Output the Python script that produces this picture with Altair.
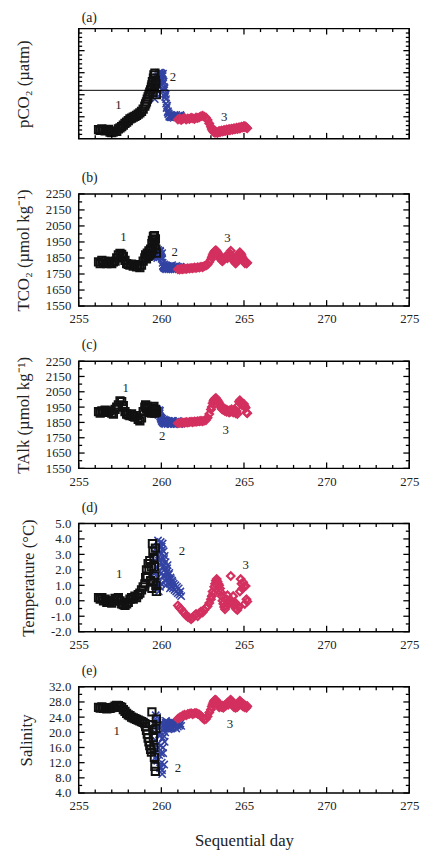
import altair as alt
import pandas as pd

FONT = "Liberation Serif"
BLACK = "#111111"
BLUE = "#3343a3"
RED = "#d3305f"

# ---------------- data ----------------
DAY1 = [256.2, 256.3, 256.4, 256.5, 256.6, 256.7, 256.8, 256.9, 257.0, 257.1,
        257.2, 257.3, 257.4, 257.5, 257.6, 257.7, 257.8, 257.9, 258.0, 258.1,
        258.2, 258.3, 258.4, 258.5, 258.6, 258.7, 258.8, 258.9,
        259.0, 259.05, 259.1, 259.15, 259.2, 259.25, 259.3, 259.35, 259.4,
        259.43, 259.46, 259.49, 259.52, 259.55, 259.58, 259.61, 259.64, 259.67, 259.7]
PCO2_1 = [192, 188, 195, 190, 186, 190, 193, 180, 178, 182, 185, 184, 195, 200, 205, 212, 220, 226, 232, 240,
          244, 248, 252, 256, 262, 268, 275, 285, 298, 308, 318, 330, 340, 352, 362, 372, 385,
          395, 410, 360, 425, 440, 380, 448, 415, 400, 350]
TCO2_1 = [1825, 1815, 1835, 1820, 1830, 1815, 1825, 1820, 1815, 1825, 1830, 1850, 1870, 1878, 1872, 1860, 1835, 1815, 1810, 1805,
          1812, 1800, 1808, 1795, 1800, 1790, 1805, 1830, 1850, 1870, 1845, 1880, 1860, 1895, 1870, 1905, 1880,
          1940, 1960, 1900, 1985, 1950, 1990, 1930, 1970, 1905, 1880]
TALK_1 = [1920, 1910, 1925, 1915, 1930, 1915, 1920, 1925, 1910, 1905, 1935, 1950, 1965, 1990, 1985, 1960, 1920, 1905, 1900, 1895,
          1905, 1890, 1885, 1895, 1870, 1860, 1880, 1920, 1950, 1965, 1940, 1955, 1925, 1935, 1915, 1920, 1910,
          1920, 1945, 1915, 1925, 1955, 1910, 1920, 1935, 1915, 1920]
TEMP_1 = [0.2, 0.1, 0.2, 0.0, 0.1, -0.1, 0.0, -0.1, -0.15, 0.0, 0.15, 0.1, 0.2, 0.0, -0.2, -0.25, -0.3, -0.2, -0.1, 0.1,
          0.2, 0.1, 0.3, 0.2, 0.4, 0.5, 0.7, 0.9, 1.1, 1.5, 2.0, 1.6, 2.4, 2.0, 2.6, 1.3, 2.2,
          0.8, 3.7, 3.2, 1.2, 2.8, 2.2, 1.6, 3.4, 1.0, 0.6]
SAL_1 = [26.6, 26.4, 26.7, 26.3, 26.5, 26.2, 26.4, 26.3, 26.5, 26.6, 26.9, 27.1, 27.0, 26.8, 26.6, 26.0, 25.5, 25.0, 24.6, 24.4,
         24.0, 23.8, 23.6, 23.4, 23.2, 23.0, 22.8, 22.6, 22.3, 21.5, 20.5, 19.5, 18.5, 17.5, 16.5, 15.5, 14.8,
         25.4, 22.0, 20.7, 18.6, 16.0, 13.4, 11.0, 9.7, 21.0, 23.5]

DAY2 = [259.60, 259.63, 259.66, 259.69, 259.72, 259.75, 259.78, 259.81, 259.84, 259.87,
        259.90, 259.93, 259.96, 259.99, 260.02, 260.05, 260.08, 260.11, 260.14, 260.17,
        260.20, 260.23, 260.26, 260.29, 260.35, 260.40, 260.45, 260.50, 260.55, 260.60,
        260.65, 260.70, 260.75, 260.80, 260.85, 260.90, 260.95, 261.00, 261.05, 261.10, 261.15, 261.20,
        259.62, 259.68, 259.74, 259.80, 259.86, 259.92, 259.98, 260.04, 260.10, 260.16, 260.22, 260.28,
        260.32, 260.38, 260.42, 260.48, 260.52, 260.58, 260.62, 260.68]
PCO2_2 = [330, 380, 350, 410, 370, 420, 395, 435, 410, 445, 420, 440, 450, 430, 445, 415, 435, 400, 410, 370,
          380, 340, 350, 310, 300, 275, 265, 255, 250, 258, 248, 252, 245, 255, 250, 258, 248, 253, 255, 250, 258, 252,
          360, 400, 430, 390, 450, 425, 440, 420, 445, 385, 355, 330,
          290, 270, 262, 250, 255, 248, 253, 250]
TCO2_2 = [1880, 1860, 1895, 1870, 1885, 1850, 1875, 1900, 1865, 1880, 1855, 1890, 1870, 1860, 1845, 1880, 1820, 1800, 1790, 1810,
          1785, 1795, 1800, 1780, 1790, 1800, 1785, 1795, 1780, 1790, 1805, 1785, 1795, 1780, 1790, 1800, 1785, 1795, 1790, 1785, 1795, 1790,
          1865, 1890, 1860, 1885, 1870, 1895, 1875, 1850, 1800, 1795, 1790, 1785,
          1800, 1790, 1780, 1795, 1785, 1800, 1790, 1780]
TALK_2 = [1915, 1930, 1905, 1920, 1935, 1910, 1925, 1900, 1915, 1930, 1910, 1890, 1880, 1870, 1860, 1875, 1850, 1865, 1845, 1860,
          1855, 1840, 1865, 1850, 1855, 1845, 1860, 1850, 1840, 1855, 1845, 1860, 1850, 1840, 1855, 1845, 1850, 1860, 1845, 1840, 1850, 1845,
          1925, 1910, 1935, 1915, 1900, 1925, 1880, 1860, 1855, 1870, 1845, 1860,
          1850, 1840, 1860, 1845, 1855, 1840, 1850, 1860]
TEMP_2 = [2.6, 1.2, 3.0, 0.8, 2.2, 3.3, 1.5, 2.8, 0.6, 3.6, 1.9, 3.1, 3.8, 1.1, 3.5, 2.4, 3.7, 1.6, 3.2, 2.0,
          2.9, 1.3, 2.5, 1.8, 2.1, 1.4, 1.7, 1.1, 1.5, 0.9, 1.3, 0.8, 1.1, 0.7, 1.0, 0.6, 0.9, 0.5, 0.8, 0.4, 0.6, 0.3,
          1.8, 3.4, 1.0, 3.9, 2.6, 0.9, 2.7, 3.3, 2.2, 2.7, 1.6, 1.0,
          1.9, 2.3, 1.2, 1.8, 0.8, 1.4, 1.0, 1.2]
SAL_2 = [22.0, 18.0, 24.5, 15.5, 20.5, 12.5, 23.0, 17.0, 21.5, 14.0, 19.0, 10.5, 16.5, 22.5, 12.0, 9.0, 18.5, 14.5, 21.0, 11.5,
         17.5, 20.0, 22.5, 21.0, 22.0, 21.3, 22.5, 21.0, 22.2, 21.5, 22.8, 21.2, 22.0, 21.6, 22.4, 21.0, 22.2, 21.5, 22.6, 21.8, 22.3, 21.7,
         20.0, 13.5, 24.0, 16.0, 19.5, 11.0, 14.5, 10.0, 16.0, 19.0, 22.0, 23.0,
         21.5, 22.5, 20.8, 22.0, 21.4, 22.6, 21.0, 22.2]

DAY3 = [261.0, 261.1, 261.2, 261.3, 261.4, 261.5, 261.6, 261.7, 261.8, 261.9,
        262.0, 262.1, 262.2, 262.3, 262.4, 262.5, 262.6, 262.7, 262.8, 262.9,
        263.0, 263.05, 263.1, 263.15, 263.2, 263.25, 263.3, 263.35, 263.4, 263.45,
        263.5, 263.55, 263.6, 263.65, 263.7, 263.75, 263.8, 263.85, 263.9, 263.95,
        264.0, 264.05, 264.1, 264.15, 264.2, 264.25, 264.3, 264.35, 264.4, 264.45,
        264.5, 264.55, 264.6, 264.65, 264.7, 264.75, 264.8, 264.85, 264.9, 264.95,
        265.0, 265.05, 265.1, 265.15, 265.2]
PCO2_3 = [238, 242, 236, 240, 244, 238, 242, 240, 245, 243, 240, 246, 244, 248, 252, 255, 250, 246, 235, 220,
          205, 195, 188, 182, 180, 178, 183, 180, 176, 182, 185, 180, 184, 188, 183, 186, 190, 185, 188, 192,
          187, 190, 194, 189, 192, 196, 191, 195, 198, 193, 196, 200, 195, 198, 202, 197, 200, 205, 201, 204,
          208, 203, 206, 200, 198]
TCO2_3 = [1780, 1778, 1782, 1780, 1784, 1782, 1786, 1784, 1788, 1786, 1790, 1788, 1792, 1790, 1795, 1793, 1800, 1803, 1810, 1825,
          1840, 1855, 1868, 1880, 1888, 1895, 1898, 1892, 1885, 1875, 1862, 1850, 1842, 1835, 1830, 1838, 1845, 1852, 1860, 1855,
          1848, 1862, 1870, 1880, 1895, 1865, 1850, 1840, 1830, 1822, 1815, 1828, 1842, 1858, 1872, 1885, 1878, 1868, 1855, 1840,
          1828, 1818, 1825, 1815, 1820]
TALK_3 = [1845, 1848, 1846, 1850, 1848, 1852, 1850, 1853, 1855, 1852, 1856, 1855, 1858, 1857, 1860, 1858, 1862, 1865, 1880, 1905,
          1935, 1950, 1975, 1990, 2000, 2005, 2010, 2000, 1995, 1985, 1975, 1965, 1950, 1940, 1935, 1945, 1930, 1925, 1935, 1920,
          1930, 1925, 1915, 1930, 1920, 1935, 1925, 1915, 1930, 1920, 1910, 1925, 1905, 1960, 1985, 1995, 1980, 1965, 1975, 1960,
          1970, 1955, 1945, 1915, 1910]
TEMP_3 = [-0.3, -0.45, -0.55, -0.7, -0.8, -0.95, -1.05, -1.1, -1.2, -1.1, -0.95, -0.85, -1.0, -0.8, -0.7, -0.75, -0.6, -0.45, -0.35, -0.15,
          0.1, 0.3, 0.6, 0.45, 0.9, 1.1, 1.3, 1.4, 1.25, 1.1, 1.0, 0.8, 0.55, 0.3, 0.0, -0.2, -0.4, -0.55, -0.3, 0.1,
          0.35, -0.1, -0.2, -0.05, 1.6, 0.0, -0.15, 0.3, -0.3, -0.1, -0.5, -0.25, -0.6, -0.35, -0.4, 0.6, 1.4, 1.1, 0.8, 1.2,
          0.9, -0.2, 0.95, 0.1, -0.05]
SAL_3 = [23.6, 23.9, 24.1, 24.4, 24.6, 24.5, 24.8, 24.9, 25.0, 24.8, 25.0, 25.1, 24.9, 24.7, 24.3, 23.8, 23.4, 23.5, 24.2, 25.2,
         26.0, 26.8, 27.4, 27.9, 28.3, 28.6, 28.5, 28.2, 27.5, 27.0, 26.6, 26.8, 27.1, 26.7, 27.0, 26.5, 26.8, 27.2, 27.0, 27.4,
         27.8, 27.3, 28.0, 28.4, 28.6, 28.2, 27.6, 27.0, 26.6, 26.9, 26.5, 27.0, 26.7, 27.4, 27.8, 28.3, 28.0, 27.2, 27.6, 26.8,
         27.3, 26.6, 27.0, 26.5, 26.9]

ATM_PCO2 = [370]
SERIES_LABELS = ["1", "2", "3"]
LAB_A = ([257.4, 260.7, 263.8], [302, 431, 248])
LAB_B = ([257.7, 260.8, 264.0], [1983, 1887, 1976])
LAB_C = ([257.85, 260.05, 263.9], [2077, 1762, 1800])
LAB_D = ([257.45, 261.25, 265.1], [1.7, 3.2, 2.3])
LAB_E = ([257.3, 261.0, 264.15], [20.2, 10.5, 22.3])

X_DOMAIN = [255, 275]
X_LABELS = [255, 260, 265, 270, 275]
X_MAJ = [255, 260, 265, 270, 275]
X_MIN = [256, 257, 258, 259, 261, 262, 263, 264, 266, 267, 268, 269, 271, 272, 273, 274]

A_MAJ = [250, 350, 450, 550]
A_MIN = [170, 190, 210, 230, 270, 290, 310, 330, 370, 390, 410, 430, 470, 490, 510, 530, 570, 590, 610, 630]
BC_MAJ = [1550, 1650, 1750, 1850, 1950, 2050, 2150, 2250]
BC_MIN = [1600, 1700, 1800, 1900, 2000, 2100, 2200]
D_MAJ = [-2, -1, 0, 1, 2, 3, 4, 5]
D_MIN = [-1.5, -0.5, 0.5, 1.5, 2.5, 3.5, 4.5]
E_MAJ = [4, 8, 12, 16, 20, 24, 28, 32]
E_MIN = [6, 10, 14, 18, 22, 26, 30]

for a, b in [(DAY1, PCO2_1), (DAY1, TCO2_1), (DAY1, TALK_1), (DAY1, TEMP_1), (DAY1, SAL_1),
             (DAY2, PCO2_2), (DAY2, TCO2_2), (DAY2, TALK_2), (DAY2, TEMP_2), (DAY2, SAL_2),
             (DAY3, PCO2_3), (DAY3, TCO2_3), (DAY3, TALK_3), (DAY3, TEMP_3), (DAY3, SAL_3)]:
    assert len(a) == len(b), (len(a), len(b))

W = 336
X_PATH = "M-1,-1L1,1M-1,1L1,-1"


def panel(letter, ytitle, ydom, v1, v2, v3, ymaj, ymin, labpos, H,
          show_xlabels=True, xtitle=None, show_ylabels=True, ylabel_expr=None, yfmt=None, hline=None):
    xs = alt.Scale(domain=X_DOMAIN, nice=False, zero=False)
    ys = alt.Scale(domain=ydom, nice=False, zero=False)

    xaxis = alt.Axis(values=X_LABELS, labels=show_xlabels, ticks=False, domain=False, grid=False,
                     labelPadding=7, labelFlush=False, title=xtitle, titlePadding=20)
    yaxis_kw = dict(values=ymaj, labels=show_ylabels, ticks=False, domain=False, grid=False,
                    labelPadding=8, title=ytitle, titlePadding=13)
    if ylabel_expr:
        yaxis_kw["labelExpr"] = ylabel_expr
    if yfmt:
        yaxis_kw["format"] = yfmt
    if not show_ylabels:
        yaxis_kw["titlePadding"] = 47
    yaxis = alt.Axis(**yaxis_kw)

    def X(field):
        return alt.X(field, scale=xs, axis=xaxis, title=xtitle)

    def Y(field):
        return alt.Y(field, scale=ys, axis=yaxis, title=ytitle)

    def pts(days, vals):
        return alt.Chart(pd.DataFrame({"day": days, "v": vals}))

    enc = dict(x=X("day:Q"), y=Y("v:Q"))

    s2 = pts(DAY2, v2).mark_point(shape=X_PATH, filled=False, size=55, color=BLUE,
                                  strokeWidth=1.6, opacity=1).encode(**enc)
    s3 = pts(DAY3, v3).mark_point(shape="diamond", filled=False, size=58, color=RED,
                                  strokeWidth=2.2, opacity=1).encode(**enc)
    s1 = pts(DAY1, v1).mark_point(shape="square", filled=False, size=55, color=BLACK,
                                  strokeWidth=2.0, opacity=1).encode(**enc)

    labs = alt.Chart(pd.DataFrame({"day": labpos[0], "v": labpos[1], "t": SERIES_LABELS})).mark_text(
        font=FONT, fontSize=13, color="#222222").encode(text="t:N", **enc)

    layers = [s2, s3, s1, labs]

    if hline is not None:
        layers.append(alt.Chart(pd.DataFrame({"v": hline})).mark_rule(color="black", strokeWidth=1).encode(
            y=Y("v:Q"), x=alt.value(0), x2=alt.value(W)))

    def tick_chart(vals):
        return alt.Chart(pd.DataFrame({"t": vals}))

    for vals, L in ((X_MAJ, 6), (X_MIN, 3.5)):
        layers.append(tick_chart(vals).mark_rule(color="black", strokeWidth=1.3).encode(
            x=X("t:Q"), y=alt.value(H), y2=alt.value(H - L)))
        layers.append(tick_chart(vals).mark_rule(color="black", strokeWidth=1.3).encode(
            x=X("t:Q"), y=alt.value(0), y2=alt.value(L)))
    for vals, L in ((ymaj, 6), (ymin, 3.5)):
        layers.append(tick_chart(vals).mark_rule(color="black", strokeWidth=1.3).encode(
            y=Y("t:Q"), x=alt.value(0), x2=alt.value(L)))
        layers.append(tick_chart(vals).mark_rule(color="black", strokeWidth=1.3).encode(
            y=Y("t:Q"), x=alt.value(W), x2=alt.value(W - L)))

    return alt.layer(*layers).properties(
        width=W, height=H,
        title=alt.TitleParams(letter, anchor="start", frame="group", font=FONT, fontSize=14,
                              fontWeight="normal", color="#222222", offset=3, dx=3),
    )


MINUS_FIX = "replace(format(datum.value, '.1f'), '\u2212', '-')"

pa = panel("(a)", "pCO\u2082 (\u00b5atm)", [150, 650], PCO2_1, PCO2_2, PCO2_3, A_MAJ, A_MIN, LAB_A, 112,
           show_xlabels=False, show_ylabels=False, hline=ATM_PCO2)
pb = panel("(b)", "TCO\u2082 (\u00b5mol kg\u207b\u00b9)", [1550, 2250], TCO2_1, TCO2_2, TCO2_3, BC_MAJ, BC_MIN, LAB_B, 114,
           yfmt="d")
pc = panel("(c)", "TAlk (\u00b5mol kg\u207b\u00b9)", [1550, 2250], TALK_1, TALK_2, TALK_3, BC_MAJ, BC_MIN, LAB_C, 109,
           yfmt="d")
pd_ = panel("(d)", "Temperature (\u00b0C)", [-2, 5], TEMP_1, TEMP_2, TEMP_3, D_MAJ, D_MIN, LAB_D, 110,
            ylabel_expr=MINUS_FIX)
pe = panel("(e)", "Salinity", [4, 32], SAL_1, SAL_2, SAL_3, E_MAJ, E_MIN, LAB_E, 108,
           ylabel_expr=MINUS_FIX, xtitle="Sequential day")

chart = alt.vconcat(pa, pb, pc, pd_, pe, spacing=56, bounds="flush").properties(
    padding={"left": 14, "top": 3, "right": 5, "bottom": 5},
    background="white",
).configure_view(
    stroke="black", strokeWidth=1.5
).configure_axis(
    labelFont=FONT, labelFontSize=13, labelColor="#222222",
    titleFont=FONT, titleFontSize=17, titleFontWeight="normal", titleColor="#222222",
)

chart.save("out.html", embed_options={"renderer": "svg", "actions": False})
